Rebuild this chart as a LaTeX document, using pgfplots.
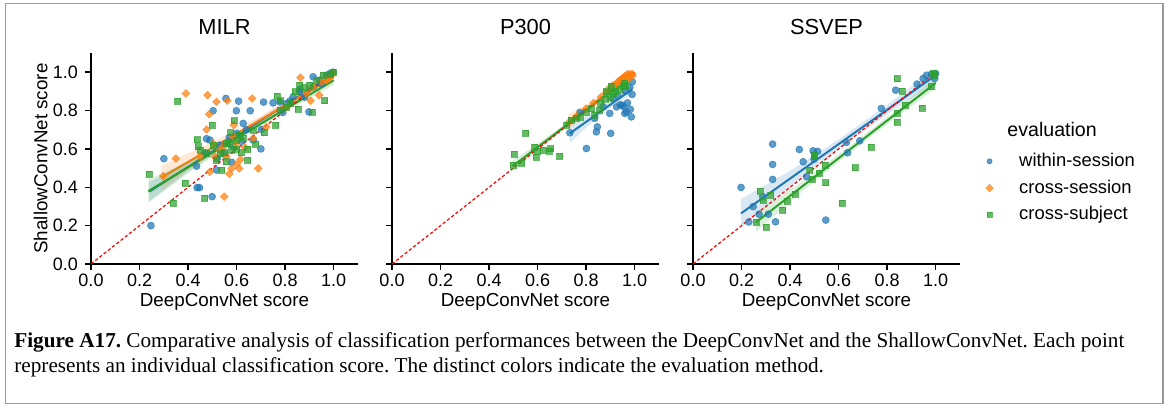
\documentclass[border=0pt]{standalone}
\usepackage{fontspec}
\setmainfont{Liberation Sans}
\newfontfamily\capfont{Liberation Serif}
\usepackage{pgfplots}
\pgfplotsset{compat=1.18}
\frenchspacing

\definecolor{cws}{HTML}{1F77B4}
\definecolor{ccs}{HTML}{FF7F0E}
\definecolor{csj}{HTML}{2CA02C}

\pgfplotsset{
  panel/.style={
    scale only axis, width=133.5pt, height=105.5pt,
    xmin=0, xmax=1.1, ymin=0, ymax=1.1,
    axis lines=left, axis line style={-, line width=0.9pt},
    xtick={0,0.2,0.4,0.6,0.8,1.0}, ytick={0,0.2,0.4,0.6,0.8,1.0},
    xticklabels={0.0,0.2,0.4,0.6,0.8,1.0},
    yticklabels={},
    tick align=outside, major tick length=3pt,
    tick style={line width=0.7pt, black},
    tick label style={font=\fontsize{9}{10}\selectfont},
    xticklabel style={yshift=1.6pt},
    label style={font=\fontsize{9.4}{11}\selectfont},
    title style={font=\fontsize{10.9}{12}\selectfont, at={(0.5,1)}, anchor=base, yshift=3pt},
    xlabel={DeepConvNet score},
    xlabel style={at={(axis description cs:0.5,0)}, anchor=base, yshift=-21.3pt},
    clip=false,
  },
  ws/.style={only marks, mark=*, mark size=1.75pt, cws,
    mark options={fill=cws, fill opacity=0.72, draw opacity=0.72, line width=0.3pt}},
  cs/.style={only marks, mark=square*, mark size=1.35pt, ccs,
    mark options={rotate=45, fill=ccs, fill opacity=0.72, draw opacity=0.72, line width=0.3pt}},
  sj/.style={only marks, mark=square*, mark size=1.5pt, csj,
    mark options={fill=csj, fill opacity=0.72, draw opacity=0.72, line width=0.3pt}},
  fit/.style={no marks, line width=1pt, #1},
  band/.style={draw=none, fill=#1, fill opacity=0.17},
  diag/.style={red, line width=0.6pt, dash pattern=on 1.6pt off 1.1pt, no marks},
}

\begin{document}
\begin{tikzpicture}
\useasboundingbox (0,0) rectangle (584pt,203.5pt);
\draw[black!40, line width=0.6pt] (2.75pt,1.75pt) rectangle (581.5pt,201.75pt);

% ---------------- MILR ----------------
\begin{axis}[panel, at={(45.5pt,71.5pt)}, anchor=south west,
  title={MILR}, yticklabels={0.0,0.2,0.4,0.6,0.8,1.0},
  ylabel={ShallowConvNet score},
  ylabel style={at={(axis description cs:-0.163,0.5)}, anchor=base, rotate=0}]
\addplot[ws] coordinates {(0.247,0.200)(0.300,0.549)(0.437,0.398)(0.447,0.398)(0.499,0.351)(0.503,0.799)(0.556,0.863)(0.599,0.799)(0.608,0.849)(0.656,0.799)(0.711,0.844)(0.750,0.840)(0.778,0.845)(0.627,0.733)(0.476,0.653)(0.435,0.510)(0.700,0.600)(0.702,0.701)(0.860,0.910)(0.915,0.976)(0.898,0.793)(0.517,0.490)(0.490,0.646)(0.545,0.576)(0.586,0.611)(0.600,0.681)(0.668,0.646)(0.805,0.837)(0.833,0.872)(0.860,0.898)(0.915,0.924)(0.942,0.958)(0.970,0.984)(0.997,1.000)(0.984,0.993)(0.53,0.62)(0.57,0.66)(0.62,0.64)(0.64,0.70)(0.52,0.55)(0.47,0.58)(0.58,0.53)(0.88,0.87)(0.95,0.94)(0.79,0.79)(0.82,0.85)};
\addplot[band=cws] coordinates {(0.24,0.427)(0.4,0.531)(0.6,0.683)(0.8,0.844)(1.0,1.012)(1.0,0.968)(0.8,0.814)(0.6,0.653)(0.4,0.481)(0.24,0.327)};
\addplot[fit=cws] coordinates {(0.24,0.377)(1.0,0.990)};
\addplot[cs] coordinates {(0.391,0.889)(0.480,0.880)(0.517,0.845)(0.562,0.851)(0.664,0.863)(0.487,0.781)(0.476,0.701)(0.588,0.724)(0.350,0.550)(0.298,0.458)(0.490,0.481)(0.549,0.351)(0.579,0.498)(0.610,0.498)(0.616,0.545)(0.689,0.498)(0.510,0.559)(0.531,0.594)(0.558,0.559)(0.634,0.608)(0.863,0.972)(0.905,0.851)(0.940,0.880)(0.970,0.958)(0.997,0.993)(0.977,0.967)(0.805,0.819)(0.723,0.715)(0.668,0.655)(0.600,0.628)(0.545,0.611)(0.503,0.628)(0.586,0.663)(0.915,0.924)(0.887,0.889)(0.45,0.56)(0.60,0.52)(0.57,0.47)(0.95,0.95)};
\addplot[band=ccs] coordinates {(0.29,0.516)(0.45,0.604)(0.6,0.700)(0.8,0.847)(1.0,1.005)(1.0,0.945)(0.8,0.807)(0.6,0.660)(0.45,0.534)(0.29,0.386)};
\addplot[fit=ccs] coordinates {(0.29,0.451)(1.0,0.975)};
\addplot[sj] coordinates {(0.239,0.469)(0.357,0.849)(0.339,0.319)(0.388,0.420)(0.468,0.342)(0.438,0.649)(0.442,0.611)(0.499,0.724)(0.590,0.747)(0.575,0.684)(0.645,0.597)(0.645,0.542)(0.678,0.625)(0.713,0.684)(0.761,0.724)(0.768,0.875)(0.778,0.851)(0.853,0.806)(0.910,0.790)(0.963,0.851)(0.840,0.898)(0.860,0.932)(0.901,0.932)(0.956,0.984)(0.997,1.000)(0.538,0.490)(0.531,0.576)(0.558,0.628)(0.600,0.646)(0.613,0.672)(0.627,0.655)(0.517,0.542)(0.476,0.576)(0.449,0.594)(0.778,0.802)(0.805,0.819)(0.668,0.698)(0.503,0.620)(0.579,0.594)(0.558,0.533)(0.985,0.990)(0.930,0.960)(0.880,0.920)(0.820,0.840)(0.600,0.600)(0.620,0.580)(0.550,0.580)(0.570,0.630)};
\addplot[band=csj] coordinates {(0.236,0.440)(0.4,0.534)(0.6,0.671)(0.8,0.822)(1.0,0.983)(1.0,0.933)(0.8,0.792)(0.6,0.641)(0.4,0.474)(0.236,0.320)};
\addplot[fit=csj] coordinates {(0.236,0.380)(1.0,0.958)};
\addplot[diag] coordinates {(0,0)(1,1)};
\end{axis}

% ---------------- P300 ----------------
\begin{axis}[panel, at={(196pt,71.5pt)}, anchor=south west, title={P300}]
\addplot[ws] coordinates {(0.774,0.790)(0.801,0.602)(0.842,0.689)(0.846,0.715)(0.835,0.759)(0.901,0.681)(0.897,0.785)(0.925,0.819)(0.949,0.828)(0.959,0.785)(0.966,0.793)(0.982,0.806)(0.986,0.767)(0.989,0.884)(0.733,0.684)(0.940,0.830)(0.955,0.820)(0.970,0.840)(0.930,0.880)(0.960,0.900)(0.980,0.920)(0.910,0.860)(0.870,0.820)(0.990,0.950)};
\addplot[band=cws] coordinates {(0.733,0.731)(0.8,0.771)(0.9,0.846)(0.989,0.936)(0.989,0.886)(0.9,0.816)(0.8,0.711)(0.733,0.631)};
\addplot[fit=cws] coordinates {(0.733,0.681)(0.989,0.911)};
\addplot[cs] coordinates {(0.73,0.74)(0.76,0.77)(0.80,0.81)(0.83,0.84)(0.86,0.87)(0.88,0.89)(0.89,0.91)(0.90,0.91)(0.91,0.93)(0.92,0.93)(0.93,0.95)(0.93,0.94)(0.94,0.96)(0.95,0.96)(0.95,0.97)(0.96,0.97)(0.96,0.98)(0.97,0.98)(0.97,0.99)(0.98,0.98)(0.98,0.99)(0.99,0.99)(0.94,0.95)(0.92,0.92)(0.97,0.96)(0.99,0.98)};
\addplot[band=ccs] coordinates {(0.726,0.781)(0.8,0.829)(0.9,0.909)(0.99,0.999)(0.99,0.969)(0.9,0.893)(0.8,0.789)(0.726,0.701)};
\addplot[fit=ccs] coordinates {(0.726,0.741)(0.99,0.984)};
\addplot[sj] coordinates {(0.503,0.573)(0.551,0.681)(0.499,0.516)(0.534,0.524)(0.588,0.608)(0.593,0.556)(0.623,0.594)(0.646,0.590)(0.653,0.602)(0.691,0.564)(0.719,0.724)(0.739,0.750)(0.835,0.776)(0.856,0.802)(0.883,0.898)(0.904,0.927)(0.911,0.889)(0.952,0.924)(0.959,0.941)(0.774,0.767)(0.760,0.760)(0.800,0.790)(0.820,0.810)(0.860,0.840)(0.880,0.860)(0.900,0.870)(0.920,0.900)(0.940,0.910)(0.960,0.930)(0.600,0.590)};
\addplot[band=csj] coordinates {(0.497,0.540)(0.65,0.672)(0.8,0.812)(0.959,0.975)(0.959,0.935)(0.8,0.792)(0.65,0.642)(0.497,0.480)};
\addplot[fit=csj] coordinates {(0.497,0.510)(0.959,0.955)};
\addplot[diag] coordinates {(0,0)(1,1)};
\end{axis}

% ---------------- SSVEP ----------------
\begin{axis}[panel, at={(346.5pt,71.5pt)}, anchor=south west, title={SSVEP},
  legend style={at={(rel axis cs:1.073,0.565)}, anchor=north west, draw=none, fill=none,
    font=\fontsize{9.2}{10.5}\selectfont, row sep=1.2pt,
    /tikz/every odd column/.append style={column sep=11pt}},
  legend cell align=left,
  legend image code/.code={\draw[mark repeat=2,mark phase=2,#1] plot coordinates {(0pt,0pt)(6pt,0pt)(12pt,0pt)};},
  legend image post style={mark size=1.3pt}]
\addplot[ws, forget plot] coordinates {(0.198,0.399)(0.248,0.299)(0.230,0.219)(0.272,0.260)(0.310,0.260)(0.328,0.625)(0.328,0.519)(0.328,0.441)(0.340,0.220)(0.438,0.597)(0.454,0.533)(0.468,0.455)(0.495,0.590)(0.513,0.587)(0.499,0.547)(0.547,0.229)(0.632,0.634)(0.637,0.580)(0.687,0.642)(0.776,0.811)(0.835,0.906)(0.923,0.938)(0.948,0.967)(0.962,0.984)(0.982,0.990)(0.996,0.967)(1.000,0.993)(0.287,0.351)};
\addplot[band=cws, forget plot] coordinates {(0.198,0.339)(0.4,0.485)(0.6,0.650)(0.8,0.830)(1.0,1.019)(1.0,0.949)(0.8,0.780)(0.6,0.600)(0.4,0.405)(0.198,0.189)};
\addplot[fit=cws, forget plot] coordinates {(0.198,0.264)(1.0,0.984)};
\addplot[sj, forget plot] coordinates {(0.259,0.217)(0.278,0.380)(0.289,0.333)(0.300,0.191)(0.320,0.359)(0.369,0.281)(0.388,0.328)(0.420,0.363)(0.481,0.490)(0.492,0.441)(0.499,0.559)(0.500,0.568)(0.520,0.472)(0.543,0.516)(0.546,0.424)(0.615,0.316)(0.669,0.502)(0.733,0.608)(0.842,0.967)(0.842,0.785)(0.842,0.738)(0.863,0.901)(0.874,0.828)(0.944,0.811)(0.982,0.924)(0.992,0.993)(0.996,0.984)};
\addplot[band=csj, forget plot] coordinates {(0.259,0.267)(0.45,0.429)(0.65,0.619)(0.85,0.817)(1.0,0.974)(1.0,0.914)(0.85,0.777)(0.65,0.583)(0.45,0.379)(0.259,0.167)};
\addplot[fit=csj, forget plot] coordinates {(0.259,0.217)(1.0,0.944)};
\addplot[diag, forget plot] coordinates {(0,0)(1,1)};
\addlegendimage{ws}\addlegendentry{within-session}
\addlegendimage{cs}\addlegendentry{cross-session}
\addlegendimage{sj}\addlegendentry{cross-subject}
\end{axis}

\node[anchor=base west, font=\fontsize{9.8}{11}\selectfont, inner sep=0pt] at (503.5pt,135pt) {evaluation};

\node[anchor=base west, inner sep=0pt, font=\capfont\fontsize{10.6}{12.5}\selectfont] at (7pt,29.5pt)
  {\textbf{Figure A17.} Comparative analysis of classification performances between the DeepConvNet and the ShallowConvNet. Each point};
\node[anchor=base west, inner sep=0pt, font=\capfont\fontsize{10.6}{12.5}\selectfont] at (7pt,17pt)
  {represents an individual classification score. The distinct colors indicate the evaluation method.};
\end{tikzpicture}
\end{document}
